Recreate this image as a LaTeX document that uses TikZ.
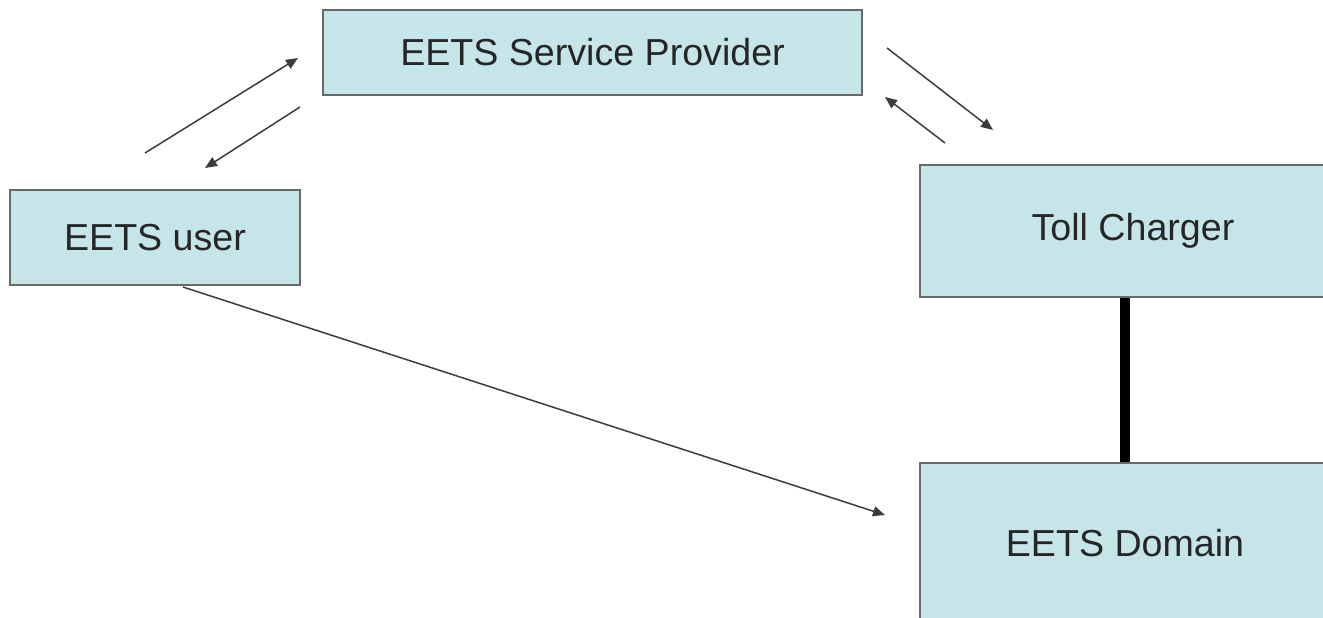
\documentclass[tikz,border=0pt]{standalone}
\usepackage{fontspec}
\setmainfont{Liberation Sans}
\usetikzlibrary{arrows.meta}
\definecolor{boxfill}{RGB}{197,229,232}
\definecolor{boxline}{RGB}{105,105,105}
\definecolor{arrowline}{RGB}{60,60,60}
\begin{document}
\begin{tikzpicture}[x=0.5pt,y=-0.5pt,
  box/.style={draw=boxline, line width=1pt, fill=boxfill, inner sep=0pt,
    font=\fontsize{18.8}{22}\selectfont, text=black!85},
  flow/.style={draw=arrowline, line width=0.75pt, -{Triangle[length=6pt,width=5pt]}},
  link/.style={draw=black, line width=5pt}]
\useasboundingbox (0,0) rectangle (1323,617);
\clip (0,0) rectangle (1323,617);
\fill[white] (0,0) rectangle (1323,617);
\node[box, minimum width=269.5pt, minimum height=42.5pt] (sp) at (592.5,52.5) {EETS Service Provider};
\node[box, minimum width=145pt, minimum height=47.5pt] (user) at (155,237.5) {EETS user};
\node[box, minimum width=213pt, minimum height=66pt] (tc) at (1133,231) {Toll Charger};
\node[box, minimum width=205pt, minimum height=80pt] (dom) at (1125,543) {EETS Domain};
\coordinate (a1s) at (145,153); \coordinate (a1e) at (298,58);
\coordinate (a2s) at (300,107); \coordinate (a2e) at (205,168);
\coordinate (a3s) at (887,48);  \coordinate (a3e) at (993,130);
\coordinate (a4s) at (945,143); \coordinate (a4e) at (885,97);
\coordinate (a5s) at (183,287); \coordinate (a5e) at (885,515);
\draw[flow] (a1s) -- (a1e);
\draw[flow] (a2s) -- (a2e);
\draw[flow] (a3s) -- (a3e);
\draw[flow] (a4s) -- (a4e);
\draw[flow] (a5s) -- (a5e);
\draw[link] (tc.south -| dom.north) -- (dom.north);
\end{tikzpicture}
\end{document}
